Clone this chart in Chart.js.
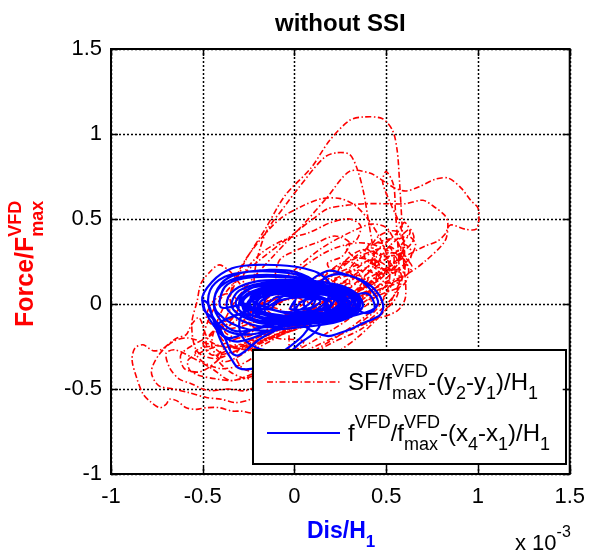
<!DOCTYPE html>
<html><head><meta charset="utf-8">
<script src="https://cdn.jsdelivr.net/npm/chart.js@4/dist/chart.umd.min.js"></script>
<style>html,body{margin:0;padding:0;background:#fff}canvas{display:block}</style>
</head><body>
<canvas id="c" width="595" height="552"></canvas>
<script>
// ---- tick values (x in units of 1e-3) ----
const xTicks = [-1, -0.5, 0, 0.5, 1, 1.5];
const yTicks = [-1, -0.5, 0, 0.5, 1, 1.5];

// ---- SF/f_max^VFD vs (y2-y1)/H1  (x in 1e-3) ----
const sfPath = [
[0.02,0.01],[0.18,0.07],[0.30,0.12],[0.26,0.03],[0.10,-0.04],[-0.08,-0.10],[-0.22,-0.14],[-0.20,-0.05],[-0.06,0.02],[0.12,0.09],[0.30,0.17],[0.38,0.15],[0.30,0.05],[0.12,-0.05],[-0.10,-0.13],[-0.30,-0.20],[-0.38,-0.16],[-0.28,-0.07],[-0.10,0.03],[0.10,0.12],[0.32,0.22],[0.44,0.26],[0.47,0.18],[0.34,0.07],[0.14,-0.03],[-0.10,-0.15],[-0.32,-0.25],[-0.45,-0.30],[-0.48,-0.21],[-0.37,-0.10],[-0.16,0.01],[0.05,0.12],[0.26,0.23],[0.42,0.31],[0.52,0.33],[0.54,0.24],[0.42,0.12],[0.22,0.00],[-0.02,-0.12],[-0.24,-0.23],[-0.42,-0.32],
[-0.53,-0.28],[-0.56,-0.12],[-0.53,0.02],[-0.51,0.12],[-0.46,0.19],[-0.41,0.23],[-0.35,0.19],[-0.28,0.10],[-0.15,0.02],[0.05,0.05],[0.20,0.16],[0.32,0.27],[0.45,0.36],[0.55,0.38],[0.58,0.28],[0.50,0.15],[0.35,0.03],[0.15,-0.07],[-0.05,-0.17],[-0.25,-0.27],
[-0.40,-0.20],[-0.36,-0.05],[-0.25,0.12],[-0.10,0.30],[0.05,0.47],[0.18,0.63],[0.30,0.78],[0.41,0.77],[0.49,0.72],[0.55,0.68],[0.61,0.665],[0.68,0.69],[0.77,0.735],[0.84,0.74],[0.91,0.68],[0.96,0.61],[1.00,0.565],[1.005,0.50],[0.99,0.44],[0.93,0.44],[0.85,0.465],[0.82,0.41],[0.78,0.37],[0.71,0.34],[0.62,0.29],[0.52,0.22],[0.40,0.12],[0.25,0.02],[0.08,-0.08],[-0.10,-0.18],[-0.30,-0.26],
[-0.46,-0.22],[-0.52,-0.08],[-0.56,-0.12],[-0.59,-0.18],[-0.64,-0.20],[-0.68,-0.23],[-0.72,-0.265],[-0.77,-0.275],[-0.825,-0.24],[-0.87,-0.26],[-0.885,-0.33],[-0.86,-0.435],[-0.825,-0.53],[-0.79,-0.57],[-0.735,-0.61],[-0.70,-0.59],[-0.68,-0.56],[-0.64,-0.57],[-0.59,-0.61],[-0.535,-0.62],[-0.48,-0.61],[-0.41,-0.61],[-0.34,-0.63],[-0.29,-0.63],[-0.22,-0.64],[-0.12,-0.58],[0.00,-0.48],[0.12,-0.38],[0.24,-0.28],[0.34,-0.20],[0.43,-0.11],[0.50,-0.03],[0.55,0.07],[0.58,0.18],
[0.50,0.20],[0.38,0.10],[0.20,-0.02],[0.00,-0.14],[-0.20,-0.24],[-0.38,-0.34],
[-0.45,-0.25],[-0.42,-0.10],[-0.34,0.08],[-0.27,0.25],[-0.16,0.44],[-0.05,0.64],[0.09,0.80],[0.19,0.96],[0.30,1.08],[0.375,1.10],[0.48,1.09],[0.535,1.02],[0.56,0.90],[0.573,0.71],[0.584,0.51],[0.595,0.25],[0.605,0.04],[0.56,-0.04],[0.42,-0.10],[0.25,-0.18],[0.05,-0.28],[-0.12,-0.36],[-0.25,-0.42],[-0.35,-0.45],
[-0.45,-0.38],[-0.55,-0.32],[-0.65,-0.27],[-0.70,-0.29],[-0.68,-0.376],[-0.63,-0.44],[-0.56,-0.47],[-0.50,-0.50],[-0.45,-0.51],[-0.36,-0.50],[-0.27,-0.51],[-0.18,-0.47],[-0.05,-0.38],[0.10,-0.28],[0.25,-0.18],[0.40,-0.06],[0.50,0.06],[0.55,0.18],[0.50,0.26],[0.40,0.22],[0.25,0.12],[0.05,0.00],[-0.15,-0.12],[-0.35,-0.22],[-0.50,-0.28],[-0.58,-0.33],[-0.57,-0.39],[-0.52,-0.42],[-0.43,-0.44],[-0.34,-0.45],[-0.22,-0.42],[-0.08,-0.33],[0.10,-0.22],[0.28,-0.10],[0.42,0.02],[0.52,0.14],
[0.45,0.10],[0.30,0.02],[0.10,-0.05],[-0.08,-0.08],[-0.18,0.00],[-0.22,0.15],[-0.16,0.41],[-0.05,0.58],[0.02,0.68],[0.16,0.86],[0.23,0.89],[0.30,0.88],[0.34,0.80],[0.375,0.665],[0.40,0.51],[0.43,0.31],[0.445,0.14],[0.40,0.05],[0.25,-0.04],[0.08,-0.12],[-0.12,-0.20],[-0.30,-0.27],[-0.45,-0.30],
[-0.50,-0.22],[-0.45,-0.05],[-0.35,0.10],[-0.20,0.25],[-0.02,0.40],[0.10,0.50],[0.18,0.56],[0.28,0.58],[0.39,0.59],[0.50,0.59],[0.605,0.59],[0.70,0.61],[0.77,0.565],[0.82,0.52],[0.836,0.47],[0.82,0.37],[0.71,0.25],[0.62,0.18],[0.50,0.12],[0.36,0.06],[0.20,-0.02],[0.00,-0.12],[-0.20,-0.22],
[-0.30,-0.15],[-0.15,0.05],[0.00,0.20],[0.15,0.33],[0.30,0.42],[0.42,0.47],[0.50,0.45],[0.55,0.38],[0.62,0.40],[0.66,0.35],[0.62,0.26],[0.55,0.20],[0.45,0.22],[0.38,0.28],[0.42,0.36],[0.52,0.34],[0.60,0.25],[0.58,0.14],[0.45,0.08],[0.30,0.00],[0.10,-0.10],[-0.10,-0.18],
[-0.25,-0.10],[-0.10,0.08],[0.05,0.22],[0.20,0.32],[0.35,0.36],[0.48,0.33],[0.56,0.26],[0.50,0.18],[0.40,0.20],[0.45,0.28],[0.55,0.30],[0.62,0.22],[0.60,0.12],[0.48,0.06],[0.30,-0.02],[0.10,-0.10],[-0.08,-0.15],
[0.10,-0.02],[0.30,0.10],[0.40,0.18],[0.48,0.25],[0.55,0.30],[0.60,0.35],[0.64,0.30],[0.60,0.22],[0.52,0.18],[0.46,0.24],[0.50,0.32],[0.58,0.40],[0.63,0.44],[0.65,0.38],[0.58,0.30],[0.48,0.28],[0.42,0.33],[0.46,0.40],[0.55,0.43],[0.60,0.36],[0.56,0.26],[0.45,0.18],[0.35,0.14],[0.30,0.20],[0.36,0.27],[0.45,0.30],[0.52,0.26],[0.50,0.18],[0.40,0.10],[0.25,0.04],[0.10,-0.02],
[0.12,0.10],[0.20,0.20],[0.28,0.25],[0.35,0.22],[0.30,0.14],[0.22,0.12],[0.25,0.22],[0.33,0.30],[0.40,0.32],[0.44,0.25],[0.38,0.16],[0.28,0.08],[0.16,0.02],[0.05,-0.04],[-0.08,-0.08],
[-0.20,-0.10],[-0.32,-0.14],[-0.42,-0.14],[-0.48,-0.08],[-0.44,0.02],[-0.36,0.06],[-0.30,0.00],[-0.35,-0.10],[-0.45,-0.18],[-0.55,-0.24],[-0.62,-0.30],[-0.60,-0.38],[-0.52,-0.40],[-0.45,-0.36],[-0.40,-0.30],[-0.46,-0.25],[-0.54,-0.28],[-0.50,-0.34],[-0.40,-0.38],[-0.30,-0.36],[-0.22,-0.30],[-0.28,-0.24],[-0.38,-0.26],[-0.42,-0.32],[-0.35,-0.40],[-0.25,-0.44],[-0.15,-0.40],[-0.05,-0.32],
[0.05,-0.22],[-0.10,-0.20],[-0.25,-0.12],[-0.35,0.02],[-0.30,0.20],[-0.20,0.36],[-0.08,0.50],[0.05,0.58],[0.15,0.62],[0.25,0.62],[0.33,0.58],[0.40,0.50],[0.46,0.40],[0.50,0.30],[0.52,0.18],[0.50,0.06],[0.44,-0.04],[0.35,-0.12],
[0.40,-0.10],[0.52,0.02],[0.58,0.12],[0.60,0.30],[0.58,0.45],[0.52,0.60],[0.48,0.72],[0.50,0.78],[0.54,0.70],[0.55,0.55],[0.56,0.40],[0.57,0.20],[0.56,0.05],[0.48,-0.05],
[0.36,-0.15],[0.22,-0.22],[0.08,-0.30],[-0.05,-0.36],[-0.18,-0.40],[-0.28,-0.38],[-0.32,-0.30],[-0.25,-0.22],[-0.10,-0.16],[0.05,-0.10],[0.20,-0.04],[0.35,0.04],[0.45,0.10],
[0.30,0.02],[0.10,-0.08],[-0.10,-0.18],[-0.30,-0.25],[-0.45,-0.24],[-0.58,-0.20],[-0.66,-0.22],[-0.74,-0.30],[-0.78,-0.40],[-0.74,-0.48],[-0.66,-0.50],[-0.58,-0.52],[-0.48,-0.55],[-0.40,-0.56],[-0.32,-0.58],[-0.24,-0.56],[-0.15,-0.50],[-0.05,-0.42],
[-0.05,-0.06],[-0.22,0.02],[-0.28,0.16],[-0.18,0.30],[-0.05,0.38],[0.08,0.42],[0.20,0.48],[0.30,0.50],[0.36,0.46],[0.34,0.38],[0.28,0.34],[0.32,0.28],[0.40,0.26],[0.46,0.20],[0.40,0.12],[0.28,0.06],[0.12,0.00],
[0.00,0.05],[-0.10,0.14],[-0.08,0.26],[0.02,0.32],[0.12,0.36],[0.22,0.40],[0.30,0.36],[0.26,0.28],[0.18,0.24],[0.22,0.18],[0.32,0.20],[0.42,0.26],[0.50,0.22],[0.46,0.14],[0.34,0.08],[0.18,0.02],
[0.40,0.22],[0.44,0.30],[0.50,0.36],[0.56,0.42],[0.60,0.48],[0.63,0.42],[0.58,0.34],[0.60,0.28],[0.64,0.22],[0.60,0.16],[0.52,0.12],[0.44,0.06],[0.36,0.00],[0.24,-0.04],
[-0.20,-0.08],[0.00,0.05],[0.20,0.14],[0.35,0.20],[0.40,0.14],[0.28,0.05],[0.10,-0.03],[-0.05,-0.06],[0.00,0.00]
];

// ---- f^VFD/f_max^VFD vs (x4-x1)/H1  (x in 1e-3) ----
const fvdPath = [
[-0.25,0.00],[-0.18,0.06],[0.00,0.08],[0.18,0.06],[0.26,0.00],[0.18,-0.06],[0.00,-0.08],[-0.18,-0.06],
[-0.28,0.01],[-0.20,0.08],[0.02,0.10],[0.22,0.07],[0.30,0.01],[0.22,-0.06],[0.02,-0.09],[-0.20,-0.07],
[-0.22,0.00],[-0.15,0.05],[0.02,0.07],[0.18,0.05],[0.24,0.00],[0.16,-0.05],[-0.02,-0.07],[-0.16,-0.05],
[-0.30,0.02],[-0.22,0.10],[0.00,0.12],[0.24,0.09],[0.33,0.02],[0.25,-0.07],[0.02,-0.11],[-0.22,-0.09],
[-0.32,0.00],[-0.25,0.09],[-0.05,0.11],[0.16,0.10],[0.30,0.05],[0.33,-0.02],[0.22,-0.08],[0.00,-0.10],[-0.22,-0.10],
[-0.34,-0.02],[-0.30,0.08],[-0.12,0.13],[0.10,0.12],[0.28,0.08],[0.36,0.00],[0.28,-0.08],[0.05,-0.12],[-0.20,-0.13],
[-0.36,-0.04],[-0.35,0.06],[-0.22,0.13],[0.00,0.14],[0.20,0.12],[0.34,0.06],[0.37,-0.02],[0.25,-0.10],[0.00,-0.14],[-0.25,-0.15],
[-0.42,-0.05],[-0.43,0.06],[-0.35,0.14],[-0.20,0.17],[0.00,0.16],[0.15,0.12],[0.22,0.04],[0.15,-0.06],[-0.05,-0.13],[-0.25,-0.18],[-0.38,-0.15],
[-0.46,-0.04],[-0.46,0.08],[-0.38,0.16],[-0.25,0.19],[-0.10,0.19],[0.05,0.16],[0.12,0.08],[0.08,-0.04],[-0.10,-0.14],[-0.30,-0.22],[-0.40,-0.18],
[-0.503,0.02],[-0.45,0.13],[-0.34,0.21],[-0.21,0.23],[-0.04,0.225],[0.05,0.21],[0.14,0.176],[0.20,0.10],[0.16,0.00],[0.00,-0.10],[-0.18,-0.20],[-0.30,-0.30],[-0.34,-0.29],[-0.375,-0.21],[-0.41,-0.14],[-0.45,-0.08],[-0.49,-0.04],[-0.50,0.02],
[-0.47,0.00],[-0.44,-0.10],[-0.40,-0.22],[-0.34,-0.33],[-0.305,-0.376],[-0.236,-0.382],[-0.15,-0.35],[-0.05,-0.27],[0.05,-0.18],[0.10,-0.08],[0.05,0.00],
[0.10,0.08],[0.177,0.16],[0.246,0.176],[0.337,0.153],[0.407,0.094],[0.455,0.018],[0.434,-0.029],[0.375,-0.053],[0.28,-0.08],[0.15,-0.10],[0.03,-0.08],[0.00,0.00],
[0.05,0.10],[0.177,0.194],[0.273,0.176],[0.375,0.135],[0.445,0.076],[0.482,0.00],[0.471,-0.059],[0.429,-0.088],[0.375,-0.112],[0.321,-0.141],[0.246,-0.171],[0.177,-0.188],[0.07,-0.141],[0.00,-0.06],[0.05,0.02],
[0.20,0.03],[0.30,0.035],[0.348,0.059],[0.402,0.059],[0.434,0.006],[0.429,-0.041],[0.38,-0.053],[0.327,-0.024],[0.25,-0.03],[0.10,-0.05],
[0.139,-0.118],[0.107,-0.171],[0.032,-0.229],[-0.05,-0.30],[-0.10,-0.28],[-0.20,-0.26],[-0.28,-0.20],[-0.30,-0.10],[-0.25,0.00],
[-0.40,-0.02],[-0.38,0.10],[-0.28,0.15],[-0.10,0.16],[0.08,0.14],[0.18,0.08],[0.16,-0.02],[0.02,-0.08],[-0.18,-0.14],[-0.32,-0.16],[-0.40,-0.10],
[-0.44,0.00],[-0.40,0.12],[-0.30,0.18],[-0.15,0.20],[0.00,0.19],[0.12,0.12],[0.10,0.02],[-0.05,-0.08],[-0.25,-0.16],[-0.36,-0.20],[-0.42,-0.12],
[-0.15,0.00],[-0.10,0.04],[0.05,0.05],[0.15,0.03],[0.18,-0.01],[0.10,-0.04],[-0.05,-0.05],[-0.14,-0.03],
[-0.26,-0.02],[-0.22,0.05],[-0.08,0.09],[0.10,0.08],[0.25,0.04],[0.28,-0.02],[0.18,-0.07],[0.00,-0.09],[-0.16,-0.08],
[-0.30,-0.04],[-0.28,0.04],[-0.15,0.10],[0.05,0.11],[0.22,0.09],[0.32,0.04],[0.30,-0.04],[0.15,-0.09],[-0.05,-0.11],[-0.22,-0.10],
[-0.20,0.02],[-0.12,0.07],[0.04,0.08],[0.20,0.07],[0.28,0.03],[0.24,-0.04],[0.08,-0.07],[-0.08,-0.07],[-0.18,-0.04],
[-0.12,0.00],[-0.05,0.05],[0.10,0.06],[0.22,0.04],[0.26,-0.01],[0.16,-0.05],[0.00,-0.06],[-0.10,-0.04],
[-0.24,0.03],[-0.14,0.11],[0.05,0.13],[0.25,0.11],[0.35,0.04],[0.32,-0.05],[0.18,-0.10],[-0.02,-0.12],[-0.20,-0.11],[-0.27,-0.05],
[-0.28,0.03],[-0.18,0.09],[0.02,0.11],[0.20,0.09],[0.31,0.03],[0.27,-0.05],[0.10,-0.09],[-0.10,-0.10],[-0.24,-0.06],
[-0.26,-0.01],[-0.16,0.07],[0.06,0.09],[0.24,0.06],[0.30,-0.01],[0.20,-0.08],[0.00,-0.10],[-0.18,-0.08],
[-0.22,0.04],[-0.10,0.10],[0.10,0.10],[0.26,0.06],[0.29,0.00],[0.18,-0.06],[-0.02,-0.08],[-0.20,-0.05],
[-0.24,0.01],[-0.12,0.06],[0.06,0.07],[0.22,0.05],[0.27,-0.02],[0.14,-0.07],[-0.06,-0.08],[-0.20,-0.04],
[-0.18,0.02],[-0.06,0.08],[0.12,0.08],[0.25,0.03],[0.22,-0.04],[0.05,-0.07],[-0.12,-0.06],
[-0.30,0.00],[-0.24,0.07],[-0.04,0.12],[0.18,0.11],[0.32,0.06],[0.34,-0.01],[0.24,-0.08],[0.04,-0.11],[-0.18,-0.11],[-0.28,-0.06],
[-0.18,0.06],[0.00,0.10],[0.18,0.08],[0.28,0.02],[0.20,-0.06],[0.02,-0.08],[-0.15,-0.06],
[-0.15,0.04],[0.00,0.06],[0.15,0.04],[0.20,0.00],[0.12,-0.04],[0.00,-0.05],[-0.12,-0.03],
[-0.08,0.02],[0.06,0.04],[0.14,0.02],[0.10,-0.02],[-0.02,-0.03],[0.00,0.02]
];

// ---- text ----
const TITLE = 'without SSI';
const legendSF = [{n:'SF/f'},{sup:'VFD',sub:'max'},{n:'-(y'},{sub:'2'},{n:'-y'},{sub:'1'},{n:')/H'},{sub:'1'}];
const legendFV = [{n:'f'},{sup:'VFD'},{n:'/f'},{sup:'VFD',sub:'max'},{n:'-(x'},{sub:'4'},{n:'-x'},{sub:'1'},{n:')/H'},{sub:'1'}];
const yTitle = [{n:'Force/F'},{sup:'VFD',sub:'max'}];
const xTitle = [{n:'Dis/H'},{sub:'1'}];
const multTxt = [{n:'x 10'},{sup:'-3'}];

const FAM = "'Liberation Sans', Arial, Helvetica, sans-serif";
const RED = '#ff0000', BLUE = '#0000ff';

function rich(ctx, parts, x, y, big, small, color, rot, raise, lower){
  ctx.save(); ctx.translate(x,y); if(rot) ctx.rotate(rot);
  ctx.fillStyle=color; ctx.textBaseline='alphabetic'; ctx.textAlign='left';
  let cx=0;
  for(const p of parts){
    if(p.n!==undefined){ctx.font=big; ctx.fillText(p.n,cx,0); cx+=ctx.measureText(p.n).width;}
    else{ctx.font=small; let w=0;
      if(p.sup){ctx.fillText(p.sup,cx,-raise); w=Math.max(w,ctx.measureText(p.sup).width);}
      if(p.sub){ctx.fillText(p.sub,cx,lower); w=Math.max(w,ctx.measureText(p.sub).width);}
      cx+=w;}
  }
  ctx.restore();
}

const decor = {
  id:'decor',
  beforeDraw(chart){
    const c=chart.ctx; c.save(); c.fillStyle='#fff'; c.fillRect(0,0,chart.width,chart.height); c.restore();
  },
  beforeDatasetsDraw(chart){
    const c=chart.ctx, a=chart.chartArea, sx=chart.scales.x, sy=chart.scales.y;
    c.save(); c.strokeStyle='#000'; c.lineWidth=1.5; c.setLineDash([2,2]);
    xTicks.forEach(v=>{const p=Math.round(sx.getPixelForValue(v))+0.5; c.beginPath(); c.moveTo(p,a.top); c.lineTo(p,a.bottom); c.stroke();});
    yTicks.forEach(v=>{const p=Math.round(sy.getPixelForValue(v))+0.5; c.beginPath(); c.moveTo(a.left,p); c.lineTo(a.right,p); c.stroke();});
    c.restore();
  },
  afterDatasetsDraw(chart){
    const c=chart.ctx, a=chart.chartArea, sx=chart.scales.x, sy=chart.scales.y;
    c.save();
    const L=253,T=350,R=566,B=464;
    c.fillStyle='#fff'; c.fillRect(L,T,R-L,B-T);
    c.strokeStyle='#000'; c.lineWidth=2; c.setLineDash([]); c.strokeRect(L,T,R-L,B-T);
    c.strokeStyle=RED; c.lineWidth=1.6; c.setLineDash([6,2.5,1.5,2.5]);
    c.beginPath(); c.moveTo(267,382); c.lineTo(340,382); c.stroke();
    c.strokeStyle=BLUE; c.lineWidth=2.2; c.setLineDash([]);
    c.beginPath(); c.moveTo(267,433); c.lineTo(340,433); c.stroke();
    rich(c, legendSF, 348, 390, '24px '+FAM, '18px '+FAM, '#000', 0, 13, 9);
    rich(c, legendFV, 348, 441, '24px '+FAM, '18px '+FAM, '#000', 0, 13, 9);
    c.strokeStyle='#000'; c.lineWidth=2; c.setLineDash([]);
    c.strokeRect(a.left, a.top, a.right-a.left, a.bottom-a.top);
    c.lineWidth=1.5;
    xTicks.forEach(v=>{const p=Math.round(sx.getPixelForValue(v))+0.5;
      c.beginPath(); c.moveTo(p,a.bottom); c.lineTo(p,a.bottom-7); c.moveTo(p,a.top); c.lineTo(p,a.top+7); c.stroke();});
    yTicks.forEach(v=>{const p=Math.round(sy.getPixelForValue(v))+0.5;
      c.beginPath(); c.moveTo(a.left,p); c.lineTo(a.left+7,p); c.moveTo(a.right,p); c.lineTo(a.right-7,p); c.stroke();});
    c.restore();
  },
  afterDraw(chart){
    const c=chart.ctx, a=chart.chartArea;
    c.save();
    c.fillStyle='#000'; c.font='bold 24px '+FAM; c.textAlign='center'; c.textBaseline='alphabetic';
    c.fillText(TITLE, (a.left+a.right)/2, 31);
    c.restore();
    rich(c, xTitle, 307, 538, 'bold 23px '+FAM, 'bold 17px '+FAM, BLUE, 0, 10, 9);
    rich(c, yTitle, 33, 327, 'bold 25px '+FAM, 'bold 18px '+FAM, RED, -Math.PI/2, 12, 10);
    rich(c, multTxt, 515, 550, '22px '+FAM, '16px '+FAM, '#000', 0, 13, 0);
  }
};

new Chart(document.getElementById('c'), {
  type:'scatter',
  data:{datasets:[
    {label:'fVFD', data:fvdPath.map(([x,y])=>({x,y})), showLine:true, borderColor:BLUE, borderWidth:2.2, pointRadius:0, tension:0.35, order:1},
    {label:'SF', data:sfPath.map(([x,y])=>({x,y})), showLine:true, borderColor:RED, borderWidth:1.6, borderDash:[6,2.5,1.5,2.5], pointRadius:0, tension:0.3, order:2}
  ]},
  options:{
    responsive:false, animation:false, devicePixelRatio:1,
    layout:{padding:{left:0,right:18,top:49,bottom:0}},
    plugins:{legend:{display:false},tooltip:{enabled:false},title:{display:false}},
    scales:{
      x:{type:'linear',min:-1,max:1.5,
        afterBuildTicks:s=>{s.ticks=xTicks.map(v=>({value:v}));},
        ticks:{color:'#000',font:{family:FAM,size:22},padding:10,maxRotation:0,autoSkip:false,callback:v=>String(v)},
        grid:{display:false,drawTicks:false}, border:{display:false},
        afterFit:s=>{s.height=78;}},
      y:{type:'linear',min:-1,max:1.5,
        afterBuildTicks:s=>{s.ticks=yTicks.map(v=>({value:v}));},
        ticks:{color:'#000',font:{family:FAM,size:22},padding:9,autoSkip:false,callback:v=>String(v)},
        grid:{display:false,drawTicks:false}, border:{display:false},
        afterFit:s=>{s.width=111;}}
    }
  },
  plugins:[decor]
});
</script>
</body></html>
